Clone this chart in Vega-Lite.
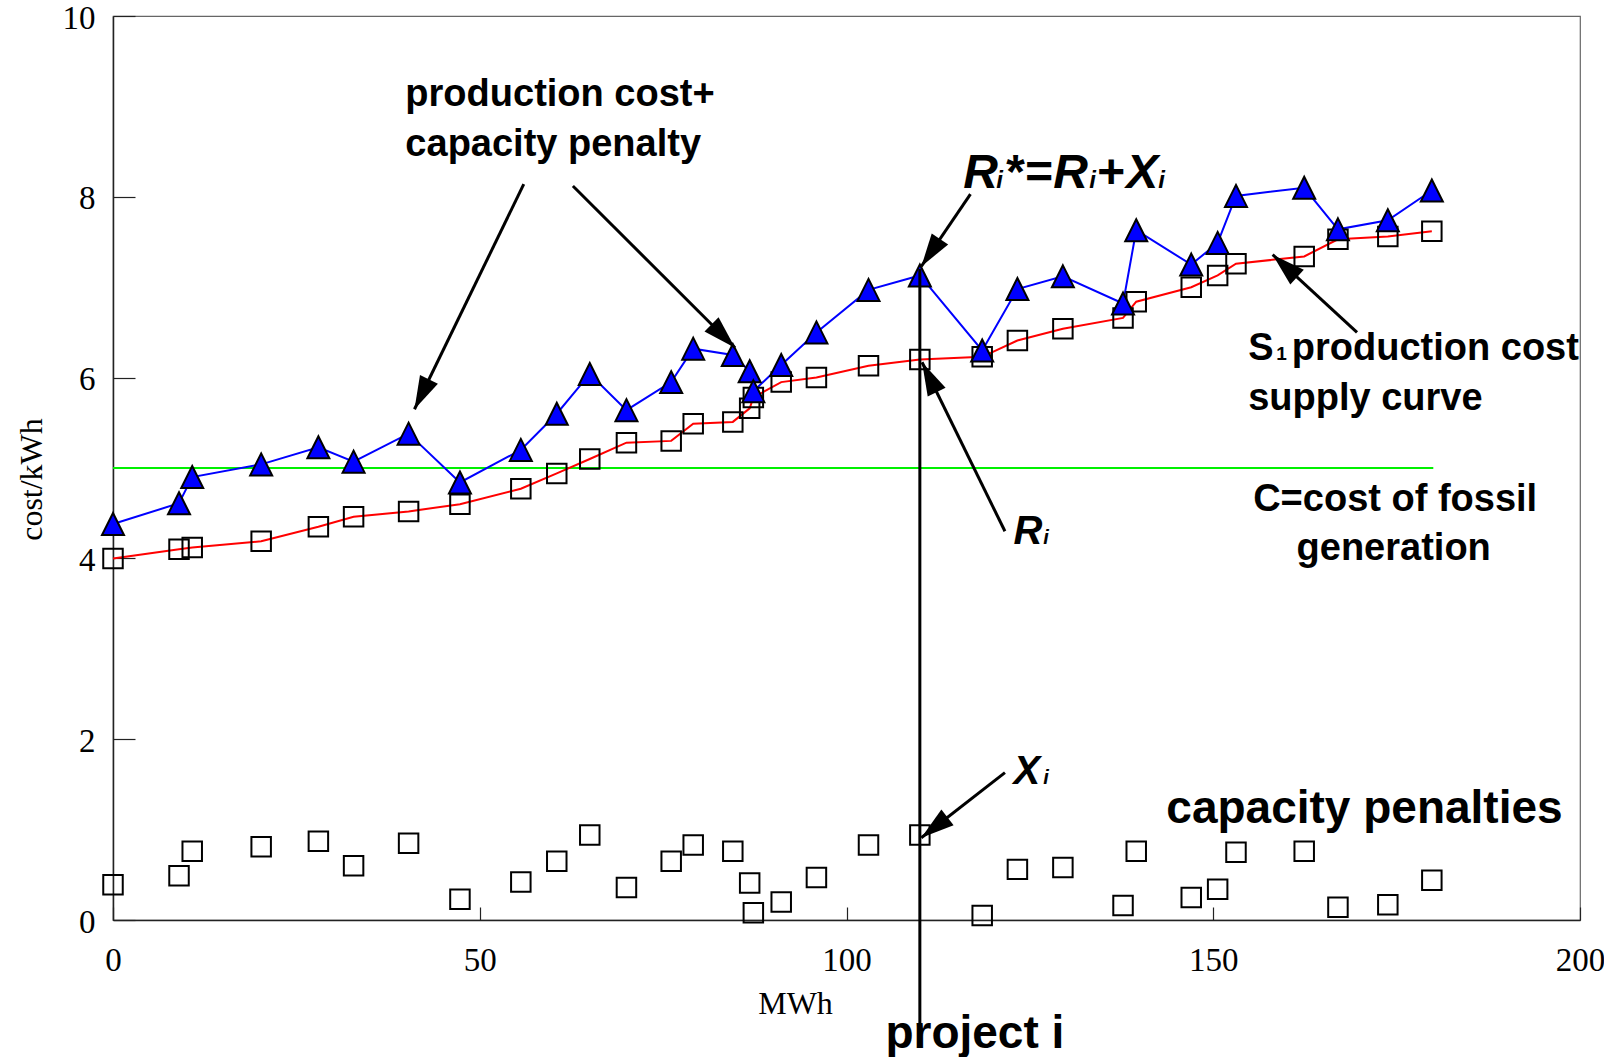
{
  "$schema": "https://vega.github.io/schema/vega-lite/v6.json",
  "width": 1467,
  "height": 904,
  "autosize": "none",
  "padding": {"left": 113, "top": 16, "right": 24, "bottom": 137},
  "background": "white",
  "config": {
    "view": {"stroke": "#666666", "strokeWidth": 1.2},
    "axis": {
      "labelFont": "Liberation Serif", "labelFontSize": 33, "labelColor": "black",
      "titleFont": "Liberation Serif", "titleFontSize": 32, "titleFontWeight": "normal", "titleColor": "black",
      "domainColor": "#222222", "domainWidth": 1.5, "tickColor": "#222222", "tickWidth": 1.2,
      "grid": false, "labelFlush": false, "labelOverlap": false
    },
    "axisX": {"tickCount": 4, "tickSize": -13, "labelPadding": 37, "titleX": 682, "titleY": 83, "titleBaseline": "middle"},
    "axisY": {"tickCount": 5, "tickSize": -22, "labelPadding": 40, "labelOffset": 2, "titleX": -82, "titleY": 463, "titleBaseline": "middle", "titleAngle": -90}
  },
  "datasets": {
    "curve": [
      {"mwh": 0, "R": 4.00, "Rs": 4.38, "X": 0.39},
      {"mwh": 9.0, "R": 4.10, "Rs": 4.61, "X": 0.49},
      {"mwh": 10.8, "R": 4.12, "Rs": 4.90, "X": 0.76},
      {"mwh": 20.2, "R": 4.19, "Rs": 5.04, "X": 0.81},
      {"mwh": 28.0, "R": 4.35, "Rs": 5.23, "X": 0.87},
      {"mwh": 32.8, "R": 4.46, "Rs": 5.07, "X": 0.60},
      {"mwh": 40.3, "R": 4.52, "Rs": 5.38, "X": 0.85},
      {"mwh": 47.3, "R": 4.60, "Rs": 4.84, "X": 0.23},
      {"mwh": 55.6, "R": 4.77, "Rs": 5.20, "X": 0.42},
      {"mwh": 60.5, "R": 4.94, "Rs": 5.60, "X": 0.65},
      {"mwh": 65.0, "R": 5.10, "Rs": 6.04, "X": 0.94},
      {"mwh": 70.0, "R": 5.28, "Rs": 5.64, "X": 0.36},
      {"mwh": 76.1, "R": 5.30, "Rs": 5.95, "X": 0.65},
      {"mwh": 79.1, "R": 5.49, "Rs": 6.32, "X": 0.83},
      {"mwh": 84.5, "R": 5.51, "Rs": 6.25, "X": 0.76},
      {"mwh": 86.8, "R": 5.66, "Rs": 6.07, "X": 0.41},
      {"mwh": 87.3, "R": 5.78, "Rs": 5.85, "X": 0.08},
      {"mwh": 91.1, "R": 5.95, "Rs": 6.14, "X": 0.20},
      {"mwh": 95.9, "R": 6.00, "Rs": 6.50, "X": 0.47},
      {"mwh": 103.0, "R": 6.13, "Rs": 6.97, "X": 0.83},
      {"mwh": 110.0, "R": 6.20, "Rs": 7.13, "X": 0.94},
      {"mwh": 118.5, "R": 6.23, "Rs": 6.30, "X": 0.05},
      {"mwh": 123.3, "R": 6.41, "Rs": 6.98, "X": 0.56},
      {"mwh": 129.5, "R": 6.54, "Rs": 7.12, "X": 0.58},
      {"mwh": 137.7, "R": 6.66, "Rs": 6.82, "X": 0.16},
      {"mwh": 139.5, "R": 6.84, "Rs": 7.63, "X": 0.76},
      {"mwh": 147.0, "R": 7.00, "Rs": 7.25, "X": 0.25},
      {"mwh": 150.6, "R": 7.13, "Rs": 7.49, "X": 0.34},
      {"mwh": 153.1, "R": 7.26, "Rs": 8.01, "X": 0.75},
      {"mwh": 162.4, "R": 7.34, "Rs": 8.10, "X": 0.76},
      {"mwh": 167.0, "R": 7.53, "Rs": 7.64, "X": 0.14},
      {"mwh": 173.8, "R": 7.56, "Rs": 7.74, "X": 0.17},
      {"mwh": 179.8, "R": 7.62, "Rs": 8.07, "X": 0.44}
    ],
    "fossil": [{"x1": 0, "x2": 180, "c": 5}],
    "project": [{"x": 110, "y1": 7.2, "y2": -1.15}],
    "arrows": [
      {"x1": 56.0, "y1": 8.14, "x2": 41.1, "y2": 5.65},
      {"x1": 62.7, "y1": 8.12, "x2": 84.8, "y2": 6.33},
      {"x1": 116.9, "y1": 8.03, "x2": 110.2, "y2": 7.23},
      {"x1": 169.6, "y1": 6.50, "x2": 158.1, "y2": 7.36},
      {"x1": 121.6, "y1": 4.30, "x2": 110.3, "y2": 6.17},
      {"x1": 121.6, "y1": 1.63, "x2": 110.2, "y2": 0.91}
    ],
    "notes": [
      {"g": "b38l", "x": 39.86, "y": 9.00, "t": "production cost+"},
      {"g": "b38l", "x": 39.86, "y": 8.45, "t": "capacity penalty"},
      {"g": "b38l", "x": 154.76, "y": 6.195, "t": "S"},
      {"g": "b38l", "x": 160.71, "y": 6.195, "t": "production cost"},
      {"g": "b38l", "x": 154.76, "y": 5.64, "t": "supply curve"},
      {"g": "b19", "x": 158.58, "y": 6.195, "t": "1"},
      {"g": "b38c", "x": 174.8, "y": 4.524, "t": "C=cost of fossil"},
      {"g": "b38c", "x": 174.6, "y": 3.98, "t": "generation"},
      {"g": "b46l", "x": 143.6, "y": 1.07, "t": "capacity penalties"},
      {"g": "b46c", "x": 117.5, "y": -1.417, "t": "project i"},
      {"g": "bi48", "x": 115.91, "y": 8.094, "t": "R"},
      {"g": "bi48", "x": 121.50, "y": 8.094, "t": "*"},
      {"g": "bi48", "x": 124.23, "y": 8.094, "t": "="},
      {"g": "bi48", "x": 128.18, "y": 8.094, "t": "R"},
      {"g": "bi48", "x": 134.05, "y": 8.094, "t": "+"},
      {"g": "bi48", "x": 138.14, "y": 8.094, "t": "X"},
      {"g": "bi24", "x": 120.41, "y": 8.094, "t": "i"},
      {"g": "bi24", "x": 133.09, "y": 8.094, "t": "i"},
      {"g": "bi24", "x": 142.5, "y": 8.094, "t": "i"},
      {"g": "bi40", "x": 122.77, "y": 4.156, "t": "R"},
      {"g": "bi40", "x": 122.77, "y": 1.501, "t": "X"},
      {"g": "bi20", "x": 126.81, "y": 4.156, "t": "i"},
      {"g": "bi20", "x": 126.81, "y": 1.501, "t": "i"}
    ]
  },
  "layer": [
    {
      "data": {"name": "fossil"},
      "mark": {"type": "rule", "color": "#00F000", "strokeWidth": 2},
      "encoding": {
        "x": {"field": "x1", "type": "quantitative", "title": "MWh", "scale": {"domain": [0, 200], "nice": false, "zero": false}},
        "x2": {"field": "x2"},
        "y": {"field": "c", "type": "quantitative", "title": "cost/kWh", "scale": {"domain": [0, 10], "nice": false, "zero": false}}
      }
    },
    {
      "data": {"name": "curve"},
      "mark": {"type": "line", "color": "#FF0000", "strokeWidth": 2},
      "encoding": {
        "x": {"field": "mwh", "type": "quantitative", "title": "MWh", "scale": {"domain": [0, 200], "nice": false, "zero": false}},
        "y": {"field": "R", "type": "quantitative", "title": "cost/kWh", "scale": {"domain": [0, 10], "nice": false, "zero": false}}
      }
    },
    {
      "data": {"name": "curve"},
      "mark": {"type": "line", "color": "#0000FF", "strokeWidth": 2},
      "encoding": {
        "x": {"field": "mwh", "type": "quantitative", "title": "MWh", "scale": {"domain": [0, 200], "nice": false, "zero": false}},
        "y": {"field": "Rs", "type": "quantitative", "title": "cost/kWh", "scale": {"domain": [0, 10], "nice": false, "zero": false}}
      }
    },
    {
      "data": {"name": "curve"},
      "mark": {"type": "point", "shape": "square", "filled": false, "stroke": "black", "strokeWidth": 2, "size": 380, "opacity": 1},
      "encoding": {
        "x": {"field": "mwh", "type": "quantitative", "title": "MWh", "scale": {"domain": [0, 200], "nice": false, "zero": false}},
        "y": {"field": "R", "type": "quantitative", "title": "cost/kWh", "scale": {"domain": [0, 10], "nice": false, "zero": false}}
      }
    },
    {
      "data": {"name": "curve"},
      "mark": {"type": "point", "shape": "M0,-1L1,1L-1,1Z", "filled": true, "fill": "#0000FF", "stroke": "black", "strokeWidth": 2, "size": 484, "opacity": 1},
      "encoding": {
        "x": {"field": "mwh", "type": "quantitative", "title": "MWh", "scale": {"domain": [0, 200], "nice": false, "zero": false}},
        "y": {"field": "Rs", "type": "quantitative", "title": "cost/kWh", "scale": {"domain": [0, 10], "nice": false, "zero": false}}
      }
    },
    {
      "data": {"name": "curve"},
      "mark": {"type": "point", "shape": "square", "filled": false, "stroke": "black", "strokeWidth": 2, "size": 380, "opacity": 1},
      "encoding": {
        "x": {"field": "mwh", "type": "quantitative", "title": "MWh", "scale": {"domain": [0, 200], "nice": false, "zero": false}},
        "y": {"field": "X", "type": "quantitative", "title": "cost/kWh", "scale": {"domain": [0, 10], "nice": false, "zero": false}}
      }
    },
    {
      "data": {"name": "project"},
      "mark": {"type": "rule", "color": "black", "strokeWidth": 3},
      "encoding": {
        "x": {"field": "x", "type": "quantitative", "title": "MWh", "scale": {"domain": [0, 200], "nice": false, "zero": false}},
        "y": {"field": "y1", "type": "quantitative", "title": "cost/kWh", "scale": {"domain": [0, 10], "nice": false, "zero": false}},
        "y2": {"field": "y2"}
      }
    },
    {
      "data": {"name": "arrows"},
      "mark": {"type": "rule", "color": "black", "strokeWidth": 3},
      "encoding": {
        "x": {"field": "x1", "type": "quantitative", "title": "MWh", "scale": {"domain": [0, 200], "nice": false, "zero": false}},
        "y": {"field": "y1", "type": "quantitative", "title": "cost/kWh", "scale": {"domain": [0, 10], "nice": false, "zero": false}},
        "x2": {"field": "x2"},
        "y2": {"field": "y2"}
      }
    },
    {
      "data": {"name": "arrows"},
      "transform": [
        {"calculate": "atan2(scale('x', datum.x2) - scale('x', datum.x1), scale('y', datum.y1) - scale('y', datum.y2)) * 180 / PI", "as": "ang"}
      ],
      "mark": {"type": "point", "shape": "M0,0L-0.6,2L0.6,2Z", "filled": true, "color": "black", "size": 1100, "opacity": 1, "strokeWidth": 0},
      "encoding": {
        "x": {"field": "x2", "type": "quantitative", "title": "MWh", "scale": {"domain": [0, 200], "nice": false, "zero": false}},
        "y": {"field": "y2", "type": "quantitative", "title": "cost/kWh", "scale": {"domain": [0, 10], "nice": false, "zero": false}},
        "angle": {"field": "ang", "type": "quantitative", "scale": null}
      }
    },
    {
      "data": {"name": "notes"},
      "transform": [{"filter": "datum.g === 'b38l'"}],
      "mark": {"type": "text", "font": "Liberation Sans", "fontWeight": "bold", "fontSize": 38, "align": "left", "baseline": "alphabetic", "color": "black"},
      "encoding": {
        "x": {"field": "x", "type": "quantitative", "title": "MWh", "scale": {"domain": [0, 200], "nice": false, "zero": false}},
        "y": {"field": "y", "type": "quantitative", "title": "cost/kWh", "scale": {"domain": [0, 10], "nice": false, "zero": false}},
        "text": {"field": "t"}
      }
    },
    {
      "data": {"name": "notes"},
      "transform": [{"filter": "datum.g === 'b19'"}],
      "mark": {"type": "text", "font": "Liberation Sans", "fontWeight": "bold", "fontSize": 19, "align": "left", "baseline": "alphabetic", "color": "black"},
      "encoding": {
        "x": {"field": "x", "type": "quantitative", "title": "MWh", "scale": {"domain": [0, 200], "nice": false, "zero": false}},
        "y": {"field": "y", "type": "quantitative", "title": "cost/kWh", "scale": {"domain": [0, 10], "nice": false, "zero": false}},
        "text": {"field": "t"}
      }
    },
    {
      "data": {"name": "notes"},
      "transform": [{"filter": "datum.g === 'b38c'"}],
      "mark": {"type": "text", "font": "Liberation Sans", "fontWeight": "bold", "fontSize": 38, "align": "center", "baseline": "alphabetic", "color": "black"},
      "encoding": {
        "x": {"field": "x", "type": "quantitative", "title": "MWh", "scale": {"domain": [0, 200], "nice": false, "zero": false}},
        "y": {"field": "y", "type": "quantitative", "title": "cost/kWh", "scale": {"domain": [0, 10], "nice": false, "zero": false}},
        "text": {"field": "t"}
      }
    },
    {
      "data": {"name": "notes"},
      "transform": [{"filter": "datum.g === 'b46l'"}],
      "mark": {"type": "text", "font": "Liberation Sans", "fontWeight": "bold", "fontSize": 46, "align": "left", "baseline": "alphabetic", "color": "black"},
      "encoding": {
        "x": {"field": "x", "type": "quantitative", "title": "MWh", "scale": {"domain": [0, 200], "nice": false, "zero": false}},
        "y": {"field": "y", "type": "quantitative", "title": "cost/kWh", "scale": {"domain": [0, 10], "nice": false, "zero": false}},
        "text": {"field": "t"}
      }
    },
    {
      "data": {"name": "notes"},
      "transform": [{"filter": "datum.g === 'b46c'"}],
      "mark": {"type": "text", "font": "Liberation Sans", "fontWeight": "bold", "fontSize": 46, "align": "center", "baseline": "alphabetic", "color": "black"},
      "encoding": {
        "x": {"field": "x", "type": "quantitative", "title": "MWh", "scale": {"domain": [0, 200], "nice": false, "zero": false}},
        "y": {"field": "y", "type": "quantitative", "title": "cost/kWh", "scale": {"domain": [0, 10], "nice": false, "zero": false}},
        "text": {"field": "t"}
      }
    },
    {
      "data": {"name": "notes"},
      "transform": [{"filter": "datum.g === 'bi48'"}],
      "mark": {"type": "text", "font": "Liberation Sans", "fontWeight": "bold", "fontStyle": "italic", "fontSize": 48, "align": "left", "baseline": "alphabetic", "color": "black"},
      "encoding": {
        "x": {"field": "x", "type": "quantitative", "title": "MWh", "scale": {"domain": [0, 200], "nice": false, "zero": false}},
        "y": {"field": "y", "type": "quantitative", "title": "cost/kWh", "scale": {"domain": [0, 10], "nice": false, "zero": false}},
        "text": {"field": "t"}
      }
    },
    {
      "data": {"name": "notes"},
      "transform": [{"filter": "datum.g === 'bi24'"}],
      "mark": {"type": "text", "font": "Liberation Sans", "fontWeight": "bold", "fontStyle": "italic", "fontSize": 24, "align": "left", "baseline": "alphabetic", "color": "black"},
      "encoding": {
        "x": {"field": "x", "type": "quantitative", "title": "MWh", "scale": {"domain": [0, 200], "nice": false, "zero": false}},
        "y": {"field": "y", "type": "quantitative", "title": "cost/kWh", "scale": {"domain": [0, 10], "nice": false, "zero": false}},
        "text": {"field": "t"}
      }
    },
    {
      "data": {"name": "notes"},
      "transform": [{"filter": "datum.g === 'bi40'"}],
      "mark": {"type": "text", "font": "Liberation Sans", "fontWeight": "bold", "fontStyle": "italic", "fontSize": 40, "align": "left", "baseline": "alphabetic", "color": "black"},
      "encoding": {
        "x": {"field": "x", "type": "quantitative", "title": "MWh", "scale": {"domain": [0, 200], "nice": false, "zero": false}},
        "y": {"field": "y", "type": "quantitative", "title": "cost/kWh", "scale": {"domain": [0, 10], "nice": false, "zero": false}},
        "text": {"field": "t"}
      }
    },
    {
      "data": {"name": "notes"},
      "transform": [{"filter": "datum.g === 'bi20'"}],
      "mark": {"type": "text", "font": "Liberation Sans", "fontWeight": "bold", "fontStyle": "italic", "fontSize": 20, "align": "left", "baseline": "alphabetic", "color": "black"},
      "encoding": {
        "x": {"field": "x", "type": "quantitative", "title": "MWh", "scale": {"domain": [0, 200], "nice": false, "zero": false}},
        "y": {"field": "y", "type": "quantitative", "title": "cost/kWh", "scale": {"domain": [0, 10], "nice": false, "zero": false}},
        "text": {"field": "t"}
      }
    }
  ]
}
